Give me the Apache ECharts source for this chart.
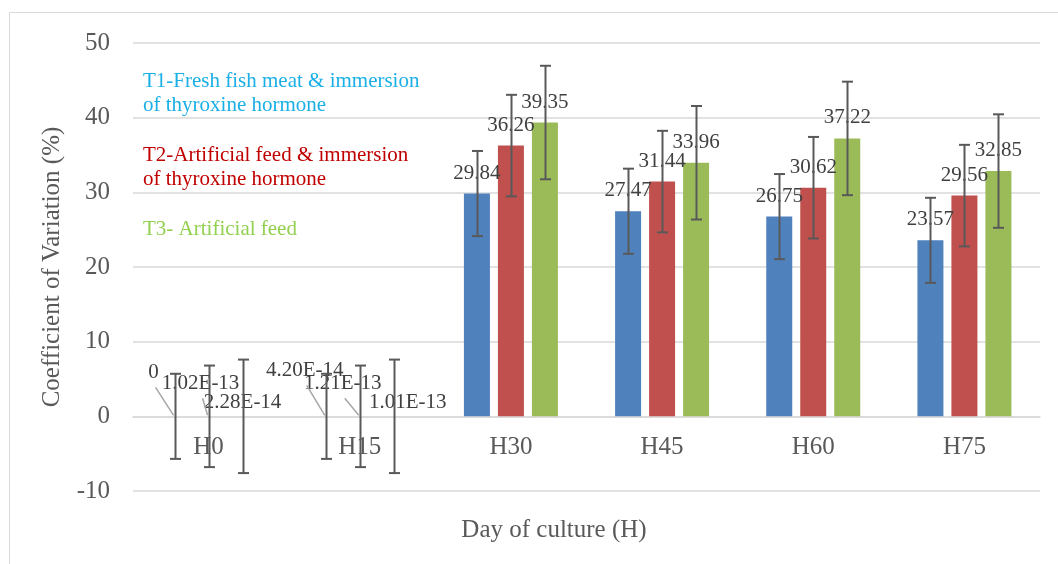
<!DOCTYPE html>
<html>
<head>
<meta charset="utf-8">
<script src="https://cdn.jsdelivr.net/npm/echarts@6/dist/echarts.min.js"></script>
<style>
html,body{margin:0;padding:0;background:#fff;}
#main{width:1058px;height:564px;}
</style>
</head>
<body>
<div id="main"></div>
<script>
// ---- data ----
const categories = ['H0', 'H15', 'H30', 'H45', 'H60', 'H75'];
const seriesNames = [
  'T1-Fresh fish meat & immersion of thyroxine hormone',
  'T2-Artificial feed & immersion of thyroxine hormone',
  'T3- Artificial feed'
];
const t1Values = [0, 4.20e-14, 29.84, 27.47, 26.75, 23.57];
const t2Values = [1.02e-13, 1.21e-13, 36.26, 31.44, 30.62, 29.56];
const t3Values = [2.28e-14, 1.01e-13, 39.35, 33.96, 37.22, 32.85];
const t1Errors = [5.7, 5.7, 5.7, 5.7, 5.7, 5.7];
const t2Errors = [6.8, 6.8, 6.8, 6.8, 6.8, 6.8];
const t3Errors = [7.6, 7.6, 7.6, 7.6, 7.6, 7.6];
const yTicks = { min: -10, max: 50, interval: 10 };

// ---- styling / layout (not data) ----
const barColors = ['#4F81BD', '#C0504D', '#9BBB59'];
const legendColors = ['#1AAFE6', '#C00000', '#92D050'];
const BAR_W = 26, BAR_GAP = 8;
const LABEL_DIST = 10, LABEL_HALF = 12;
const GRID = { left: 133, right: 18, top: 43, bottom: 73 };
const CHART_H = 564;
const FONT = '"Liberation Serif", "Times New Roman", serif';
// label nudges for the near-zero labels (moved away, some with leader lines)
const labelNudge = {
  '0-0': [-21, -23], '1-0': [-8, -12], '2-0': [0, 7],
  '0-1': [-21, -25], '1-1': [-17, -12], '2-1': [14, 7]
};

function fmt(v) {
  if (v === 0) return '0';
  if (Math.abs(v) < 1e-6) return v.toExponential(2).toUpperCase();
  return v.toFixed(2);
}

const valueSets = [t1Values, t2Values, t3Values];
const errorSets = [t1Errors, t2Errors, t3Errors];

const barSeries = valueSets.map((vals, si) => ({
  name: seriesNames[si],
  type: 'bar',
  data: vals,
  barWidth: BAR_W,
  barGap: (BAR_GAP / BAR_W * 100) + '%',
  itemStyle: { color: barColors[si] },
  label: {
    show: true,
    position: 'top',
    distance: LABEL_DIST,
    formatter: p => fmt(p.value),
    fontFamily: FONT,
    fontSize: 21,
    color: '#404040'
  },
  labelLayout: function (params) {
    const k = si + '-' + params.dataIndex;
    if (labelNudge[k]) return { dx: labelNudge[k][0], dy: labelNudge[k][1] };
    return {};
  },
  z: 2
}));

const errorSeries = valueSets.map((vals, si) => ({
  name: seriesNames[si] + ' error',
  type: 'custom',
  data: vals.map((v, i) => [i, v - errorSets[si][i], v + errorSets[si][i]]),
  z: 5,
  silent: true,
  renderItem: function (params, api) {
    const idx = api.value(0);
    const lo = api.coord([idx, api.value(1)]);
    const hi = api.coord([idx, api.value(2)]);
    const offset = (si - 1) * (BAR_W + BAR_GAP);
    const x = Math.round(lo[0] + offset) + 0.5;
    const cap = 5.5;
    const style = { stroke: '#595959', lineWidth: 2, fill: null };
    return {
      type: 'group',
      children: [
        { type: 'line', shape: { x1: x, y1: hi[1], x2: x, y2: lo[1] }, style },
        { type: 'line', shape: { x1: x - cap, y1: hi[1], x2: x + cap, y2: hi[1] }, style },
        { type: 'line', shape: { x1: x - cap, y1: lo[1], x2: x + cap, y2: lo[1] }, style }
      ]
    };
  }
}));

// leader lines from moved labels back to their (zero-height) bars
const leaderSeries = valueSets.map((vals, si) => ({
  name: seriesNames[si] + ' leader',
  type: 'custom',
  data: vals.map((v, i) => [i, v]),
  z: 4,
  silent: true,
  renderItem: function (params, api) {
    const idx = api.value(0);
    const k = si + '-' + idx;
    const n = labelNudge[k];
    if (!n || n[1] >= 0) return { type: 'group', children: [] };
    const base = api.coord([idx, api.value(1)]);
    const x = base[0] + (si - 1) * (BAR_W + BAR_GAP);
    const lx = x + n[0];
    const ly = base[1] - LABEL_DIST - LABEL_HALF + n[1];
    return {
      type: 'line',
      shape: { x1: lx + 2, y1: ly + 16, x2: x - 1, y2: base[1] - 1 },
      style: { stroke: '#A6A6A6', lineWidth: 1.5 }
    };
  }
}));

const gridH = CHART_H - GRID.top - GRID.bottom;
const zeroOffset = -(0 - yTicks.min) / (yTicks.max - yTicks.min) * gridH;

const chart = echarts.init(document.getElementById('main'), null, { renderer: 'canvas' });
chart.setOption({
  backgroundColor: '#fff',
  animation: false,
  grid: GRID,
  legend: {
    orient: 'vertical',
    left: 138,
    top: 69,
    padding: 0,
    itemGap: 26,
    itemWidth: 0,
    itemHeight: 0,
    icon: 'none',
    selectedMode: false,
    data: seriesNames.map((n, i) => ({
      name: n,
      textStyle: { color: legendColors[i] }
    })),
    formatter: n => n.replace(' of thyroxine', '\nof thyroxine'),
    textStyle: { fontFamily: FONT, fontSize: 21, lineHeight: 24 }
  },
  xAxis: {
    type: 'category',
    data: categories,
    offset: zeroOffset,
    axisLine: { onZero: false, lineStyle: { color: '#D9D9D9', width: 1.5 } },
    axisTick: { show: false },
    axisLabel: { fontFamily: FONT, fontSize: 25, color: '#595959', margin: 19 }
  },
  yAxis: {
    type: 'value',
    min: yTicks.min,
    max: yTicks.max,
    interval: yTicks.interval,
    name: 'Coefficient of Variation (%)',
    nameLocation: 'middle',
    nameGap: 68,
    nameTextStyle: { fontFamily: FONT, fontSize: 25, color: '#595959' },
    axisLine: { show: false },
    axisTick: { show: false },
    splitLine: { lineStyle: { color: '#D9D9D9', width: 1.5 } },
    axisLabel: { fontFamily: FONT, fontSize: 25, color: '#595959', margin: 23 }
  },
  graphic: [
    {
      type: 'rect',
      shape: { x: 9.5, y: 12.5, width: 1200, height: 700 },
      style: { fill: null, stroke: '#D9D9D9', lineWidth: 1 },
      silent: true,
      z: -10
    },
    {
      type: 'text',
      x: 554,
      y: 530,
      style: {
        text: 'Day of culture (H)',
        fontFamily: FONT,
        fontSize: 25,
        fill: '#595959',
        textAlign: 'center',
        textVerticalAlign: 'middle'
      }
    }
  ],
  series: barSeries.concat(leaderSeries, errorSeries)
});
</script>
</body>
</html>
